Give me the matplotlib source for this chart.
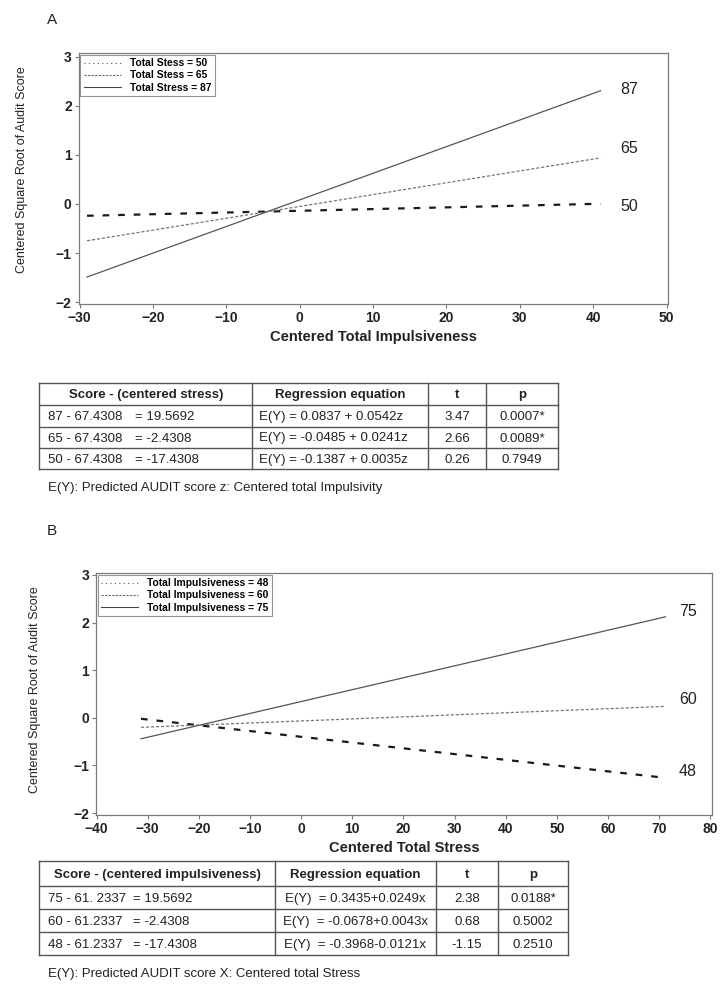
import matplotlib
matplotlib.use("Agg")
import matplotlib.pyplot as plt
from matplotlib.lines import Line2D
from matplotlib import font_manager

plt.rcParams['font.family'] = ['Liberation Sans', 'DejaVu Sans']
_names = {f.name for f in font_manager.fontManager.ttflist}
NARROW = ['Liberation Sans Narrow', 'Liberation Sans'] if 'Liberation Sans Narrow' in _names else ['Liberation Sans']
HAS_NARROW = 'Liberation Sans Narrow' in _names

# ---------------- Data ----------------
# Panel A: simple slopes over centered total impulsiveness
a_x = [-29, 41]
a_stress_levels = ["50", "65", "87"]
a_y_50 = [-0.24, 0.005]
a_y_65 = [-0.75, 0.94]
a_y_87 = [-1.49, 2.31]
a_legend = ["Total Stess = 50", "Total Stess = 65", "Total Stress = 87"]
a_xticks = [-30, -20, -10, 0, 10, 20, 30, 40, 50]
a_yticks = [-2, -1, 0, 1, 2, 3]

# Panel B: simple slopes over centered total stress
b_x = [-31.3, 71.2]
b_imp_levels = ["48", "60", "75"]
b_y_48 = [-0.02, -1.26]
b_y_60 = [-0.20, 0.24]
b_y_75 = [-0.44, 2.12]
b_legend = ["Total Impulsiveness = 48", "Total Impulsiveness = 60", "Total Impulsiveness = 75"]
b_xticks = [-40, -30, -20, -10, 0, 10, 20, 30, 40, 50, 60, 70, 80]
b_yticks = [-2, -1, 0, 1, 2, 3]

# Tables
ta_header = ["Score - (centered stress)", "Regression equation", "t", "p"]
ta_score = ["87 - 67.4308", "65 - 67.4308", "50 - 67.4308"]
ta_diff = ["= 19.5692", "= -2.4308", "= -17.4308"]
ta_eq = ["E(Y) = 0.0837 + 0.0542z", "E(Y) = -0.0485 + 0.0241z", "E(Y) = -0.1387 + 0.0035z"]
ta_t = ["3.47", "2.66", "0.26"]
ta_p = ["0.0007*", "0.0089*", "0.7949"]
ta_note = "E(Y): Predicted AUDIT score z: Centered total Impulsivity"

tb_header = ["Score - (centered impulsiveness)", "Regression equation", "t", "p"]
tb_score = ["75 - 61. 2337", "60 - 61.2337", "48 - 61.2337"]
tb_diff = ["= 19.5692", "= -2.4308", "= -17.4308"]
tb_eq = ["E(Y)  = 0.3435+0.0249x", "E(Y)  = -0.0678+0.0043x", "E(Y)  = -0.3968-0.0121x"]
tb_t = ["2.38", "0.68", "-1.15"]
tb_p = ["0.0188*", "0.5002", "0.2510"]
tb_note = "E(Y): Predicted AUDIT score X: Centered total Stress"

W, H = 725, 986
fig = plt.figure(figsize=(W / 100, H / 100), dpi=100)
fig.patch.set_facecolor('white')

FRAME = '#7a7a7a'
TXT = '#222222'

def px_rect(l, t, r, b):
    return [l / W, 1 - b / H, (r - l) / W, (b - t) / H]

def style_axes(ax, xticks, yticks, xlim, ylim, xlabel):
    ax.set_xlim(*xlim)
    ax.set_ylim(*ylim)
    ax.set_xticks(xticks)
    ax.set_yticks(yticks)
    ax.set_xticklabels([str(v).replace('-', '\u2212') for v in xticks],
                       fontsize=10, fontweight='bold', color=TXT)
    ax.set_yticklabels([str(v).replace('-', '\u2212') for v in yticks],
                       fontsize=10, fontweight='bold', color=TXT)
    for s in ax.spines.values():
        s.set_color(FRAME)
        s.set_linewidth(0.9)
    ax.tick_params(direction='out', length=3, width=0.8, color=FRAME, pad=2)
    ax.set_xlabel(xlabel, fontsize=10.5, fontweight='bold', color=TXT, labelpad=4)

heavy = dict(color='#1a1a1a', lw=1.6, dashes=(3.0, 4.0))
mid = dict(color='#777777', lw=0.9, dashes=(2.5, 1.5))
solid = dict(color='#555555', lw=0.9)

def legend_handles():
    return [Line2D([], [], color='#555555', lw=0.8, dashes=(1, 3)),
            Line2D([], [], color='#666666', lw=0.8, dashes=(2, 1.2)),
            Line2D([], [], color='#444444', lw=0.8)]

def add_legend(ax, labels):
    leg = ax.legend(legend_handles(), labels, loc='upper left',
                    prop={'weight': 'bold', 'size': 7.4}, frameon=True, fancybox=False,
                    handlelength=3.6, handletextpad=0.9, borderpad=0.35, labelspacing=0.22,
                    borderaxespad=0.15)
    leg.get_frame().set_edgecolor(FRAME)
    leg.get_frame().set_linewidth(0.8)
    return leg

YLABEL = "Centered Square Root of Audit Score"
YL_FS = 10.8 if HAS_NARROW else 9
LBL_FS = 13 if HAS_NARROW else 11.5

# ---------------- Panel A ----------------
axA = fig.add_axes(px_rect(78.6, 53, 668, 304))
axA.plot(a_x, a_y_50, **heavy)
axA.plot(a_x, a_y_65, **mid)
axA.plot(a_x, a_y_87, **solid)
axA.text(44.9, 2.33, a_stress_levels[2], fontsize=LBL_FS, family=NARROW, color=TXT, va='center', ha='center')
axA.text(44.9, 1.14, a_stress_levels[1], fontsize=LBL_FS, family=NARROW, color=TXT, va='center', ha='center')
axA.text(44.9, -0.06, a_stress_levels[0], fontsize=LBL_FS, family=NARROW, color=TXT, va='center', ha='center')
style_axes(axA, a_xticks, a_yticks, (-30.15, 50.2), (-2.04, 3.08),
           "Centered Total Impulsiveness")
add_legend(axA, a_legend)
fig.text(22 / W, 1 - 170 / H, YLABEL, fontsize=YL_FS, family=NARROW, color=TXT, rotation=90,
         ha='center', va='center')
fig.text(52 / W, 1 - 20 / H, "A", fontsize=11, color=TXT, ha='center', va='center')

# ---------------- Panel B ----------------
axB = fig.add_axes(px_rect(96, 573, 712, 815))
axB.plot(b_x, b_y_48, **heavy)
axB.plot(b_x, b_y_60, **mid)
axB.plot(b_x, b_y_75, **solid)
axB.text(75.6, 2.23, b_imp_levels[2], fontsize=LBL_FS, family=NARROW, color=TXT, va='center', ha='center')
axB.text(75.6, 0.39, b_imp_levels[1], fontsize=LBL_FS, family=NARROW, color=TXT, va='center', ha='center')
axB.text(75.6, -1.13, b_imp_levels[0], fontsize=LBL_FS, family=NARROW, color=TXT, va='center', ha='center')
style_axes(axB, b_xticks, b_yticks, (-40.1, 80.3), (-2.04, 3.04),
           "Centered Total Stress")
add_legend(axB, b_legend)
fig.text(35 / W, 1 - 690 / H, YLABEL, fontsize=YL_FS, family=NARROW, color=TXT, rotation=90,
         ha='center', va='center')
fig.text(52 / W, 1 - 531 / H, "B", fontsize=11, color=TXT, ha='center', va='center')

# ---------------- Tables (overlay in pixel coords) ----------------
ov = fig.add_axes([0, 0, 1, 1])
ov.set_xlim(0, W)
ov.set_ylim(H, 0)
ov.axis('off')
ov.patch.set_alpha(0)

FS = 9.5
BOFF = 4.5  # baseline offset below the cell centre

def draw_table(cols, rows, header, score, diff, diffx, eq, eq_align, tvals, pvals, note, notey):
    lc = '#555555'
    left, right = cols[0], cols[-1]
    for y in rows:
        ov.plot([left, right], [y, y], color=lc, lw=1.0)
    for x in cols:
        ov.plot([x, x], [rows[0], rows[-1]], color=lc, lw=1.0)
    hy = (rows[0] + rows[1]) / 2 + BOFF
    for i, h in enumerate(header):
        ov.text((cols[i] + cols[i + 1]) / 2, hy, h, fontsize=FS, fontweight='bold',
                color=TXT, ha='center', va='baseline')
    for r in range(3):
        cy = (rows[r + 1] + rows[r + 2]) / 2 + BOFF
        ov.text(48, cy, score[r], fontsize=FS, color=TXT, ha='left', va='baseline')
        ov.text(diffx, cy, diff[r], fontsize=FS, color=TXT, ha='left', va='baseline')
        if eq_align == 'left':
            ov.text(cols[1] + 7, cy, eq[r], fontsize=FS, color=TXT, ha='left', va='baseline')
        else:
            ov.text((cols[1] + cols[2]) / 2, cy, eq[r], fontsize=FS, color=TXT, ha='center', va='baseline')
        ov.text((cols[2] + cols[3]) / 2, cy, tvals[r], fontsize=FS, color=TXT, ha='center', va='baseline')
        ov.text((cols[3] + cols[4]) / 2, cy, pvals[r], fontsize=FS, color=TXT, ha='center', va='baseline')
    ov.text(48, notey + BOFF, note, fontsize=FS, color=TXT, ha='left', va='baseline')

draw_table([39.5, 252, 428, 486, 558], [382.5, 405, 426.5, 447.5, 469],
           ta_header, ta_score, ta_diff, 135, ta_eq, 'left', ta_t, ta_p, ta_note, 487)
draw_table([39.5, 275, 436, 498, 568], [861, 886, 909, 932, 955],
           tb_header, tb_score, tb_diff, 133, tb_eq, 'center', tb_t, tb_p, tb_note, 973)

fig.savefig("out.png", dpi=100)
